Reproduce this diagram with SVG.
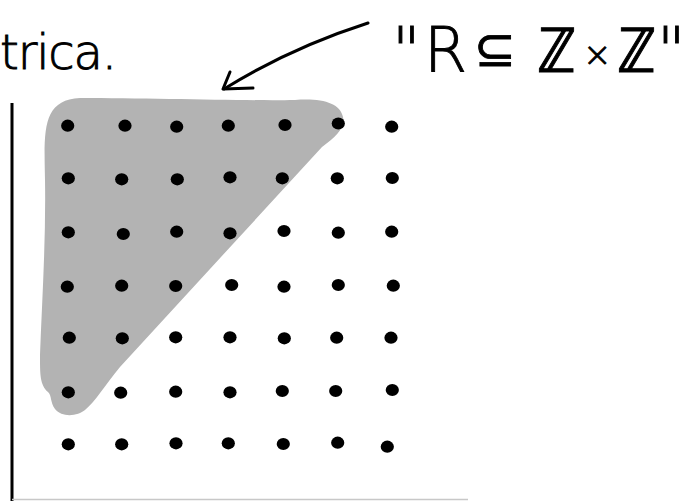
<svg xmlns="http://www.w3.org/2000/svg" width="688" height="501" viewBox="0 0 688 501">
<style>
.hand{font-family:"DejaVu Sans","Liberation Sans",sans-serif;fill:#000;stroke:#000;stroke-width:0.9;font-weight:200}
.ink{fill:none;stroke:#000;stroke-width:3;stroke-linecap:round;stroke-linejoin:round}
.d{fill:#000}
</style>
<rect width="688" height="501" fill="#fff"/>
<g id="region">
<path d="M 80,98 C 150,98 250,101 295,100 C 322,98 340,103 343,117 C 345,128 336,137 322,147 L 120,367 C 105,385 95,402 85,410 C 78,416 62,418 55,409 C 50,402 52,396 48,392 C 40,385 40,375 40,355 C 42,300 46,240 45,180 C 44,130 42,100 80,98 Z" fill="#b3b3b3"/>
</g>
<g id="axes">
<line x1="12" y1="103" x2="12" y2="501" stroke="#000" stroke-width="3"/>
<line x1="12" y1="499.5" x2="468" y2="499.5" stroke="#c8c8c8" stroke-width="1.5"/>
</g>
<g id="dots">
<ellipse class="d" cx="67.7" cy="125.7" rx="6.6" ry="6.1"/><ellipse class="d" cx="125" cy="125.7" rx="6.6" ry="6.1"/><ellipse class="d" cx="176.7" cy="126.7" rx="6.6" ry="6.1"/><ellipse class="d" cx="228.3" cy="125.7" rx="6.6" ry="6.1"/><ellipse class="d" cx="285" cy="125" rx="6.6" ry="6.1"/><ellipse class="d" cx="338.3" cy="123.5" rx="6.6" ry="6.1"/><ellipse class="d" cx="391.7" cy="126.7" rx="6.6" ry="6.1"/>
<ellipse class="d" cx="68.3" cy="178.3" rx="6.6" ry="6.1"/><ellipse class="d" cx="121.7" cy="179.3" rx="6.6" ry="6.1"/><ellipse class="d" cx="177.3" cy="179.3" rx="6.6" ry="6.1"/><ellipse class="d" cx="230" cy="177.3" rx="6.6" ry="6.1"/><ellipse class="d" cx="282.3" cy="178.3" rx="6.6" ry="6.1"/><ellipse class="d" cx="337.3" cy="178.3" rx="6.6" ry="6.1"/><ellipse class="d" cx="392.3" cy="178" rx="6.6" ry="6.1"/>
<ellipse class="d" cx="68.3" cy="232.3" rx="6.6" ry="6.1"/><ellipse class="d" cx="123.3" cy="234" rx="6.6" ry="6.1"/><ellipse class="d" cx="176.7" cy="231.7" rx="6.6" ry="6.1"/><ellipse class="d" cx="230" cy="233.3" rx="6.6" ry="6.1"/><ellipse class="d" cx="284" cy="231" rx="6.6" ry="6.1"/><ellipse class="d" cx="338.3" cy="232.7" rx="6.6" ry="6.1"/><ellipse class="d" cx="391.7" cy="231.7" rx="6.6" ry="6.1"/>
<ellipse class="d" cx="67.3" cy="286.7" rx="6.6" ry="6.1"/><ellipse class="d" cx="121.7" cy="285.7" rx="6.6" ry="6.1"/><ellipse class="d" cx="175.7" cy="286" rx="6.6" ry="6.1"/><ellipse class="d" cx="231.7" cy="285" rx="6.6" ry="6.1"/><ellipse class="d" cx="284" cy="286.7" rx="6.6" ry="6.1"/><ellipse class="d" cx="338.3" cy="285" rx="6.6" ry="6.1"/><ellipse class="d" cx="393.3" cy="285.7" rx="6.6" ry="6.1"/>
<ellipse class="d" cx="69.3" cy="337.7" rx="6.6" ry="6.1"/><ellipse class="d" cx="122.3" cy="338.3" rx="6.6" ry="6.1"/><ellipse class="d" cx="175.7" cy="337.3" rx="6.6" ry="6.1"/><ellipse class="d" cx="230" cy="337.3" rx="6.6" ry="6.1"/><ellipse class="d" cx="284.3" cy="338.3" rx="6.6" ry="6.1"/><ellipse class="d" cx="336.7" cy="337.7" rx="6.6" ry="6.1"/><ellipse class="d" cx="391" cy="337.7" rx="6.6" ry="6.1"/>
<ellipse class="d" cx="68.3" cy="392.3" rx="6.6" ry="6.1"/><ellipse class="d" cx="120.7" cy="392.7" rx="6.6" ry="6.1"/><ellipse class="d" cx="175.7" cy="391.7" rx="6.6" ry="6.1"/><ellipse class="d" cx="230" cy="392.3" rx="6.6" ry="6.1"/><ellipse class="d" cx="282.3" cy="391" rx="6.6" ry="6.1"/><ellipse class="d" cx="335.7" cy="391" rx="6.6" ry="6.1"/><ellipse class="d" cx="392.3" cy="390" rx="6.6" ry="6.1"/>
<ellipse class="d" cx="68.3" cy="444.3" rx="6.6" ry="6.1"/><ellipse class="d" cx="121.7" cy="444.3" rx="6.6" ry="6.1"/><ellipse class="d" cx="176" cy="443.3" rx="6.6" ry="6.1"/><ellipse class="d" cx="228.3" cy="443.3" rx="6.6" ry="6.1"/><ellipse class="d" cx="283.3" cy="444" rx="6.6" ry="6.1"/><ellipse class="d" cx="337.7" cy="442.7" rx="6.6" ry="6.1"/><ellipse class="d" cx="387.3" cy="446.7" rx="6.6" ry="6.1"/>
</g>
<g id="connectors">
<path class="ink" d="M 368,23 Q 290,48 224,89"/>
<path class="ink" d="M 230,72 L 223,89 L 253,88"/>
</g>
<g id="label-left">
<text class="hand" x="0" y="69" font-size="48" textLength="117" lengthAdjust="spacing">trica.</text>
</g>
<g id="label-right">
<text class="hand" y="72" font-size="62"><tspan x="392">"</tspan><tspan x="424">R</tspan><tspan x="474" font-size="50" dy="-6">⊆</tspan><tspan x="537" dy="6">ℤ</tspan><tspan x="583" font-size="34" dy="-6">×</tspan><tspan x="617" dy="6">ℤ</tspan><tspan x="657">"</tspan></text>
</g>
</svg>
